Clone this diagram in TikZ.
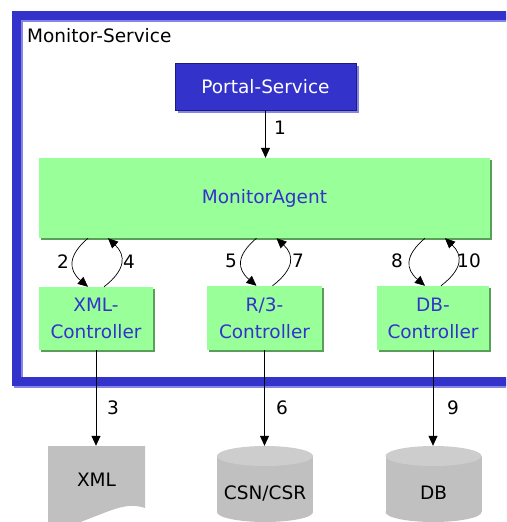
\documentclass[tikz,border=0pt]{standalone}
\usepackage{fontspec}
\setmainfont{DejaVu Sans}
\usetikzlibrary{calc,arrows.meta,shadows}
\definecolor{svcblue}{HTML}{3333CC}
\definecolor{svcshade}{HTML}{8585E6}
\definecolor{svcedge}{HTML}{1C1C7A}
\definecolor{agentgreen}{HTML}{99FF99}
\definecolor{agentshade}{HTML}{5A9E5A}
\definecolor{storegray}{HTML}{C0C0C0}
\definecolor{storetop}{HTML}{CDCDCD}

\begin{document}
\begin{tikzpicture}[x=1pt,y=-1pt,
  font=\fontsize{18.5}{27}\selectfont,
  flow/.style={-{Triangle[length=10pt,width=9pt]}, line width=0.7pt},
  portalbox/.style={fill=svcblue, draw=svcedge, line width=0.6pt, text=white,
    inner sep=0pt, general shadow={fill=svcshade, shadow xshift=3pt, shadow yshift=-3pt}},
  greenbox/.style={fill=agentgreen, text=svcblue, align=center, inner sep=0pt,
    general shadow={fill=agentshade, shadow xshift=2pt, shadow yshift=-2pt}},
  store/.style={inner sep=0pt, text=black},
  numlabel/.style={inner sep=0pt}]

\useasboundingbox (0,0) rectangle (506,522);
\clip (0,0) rectangle (506,522);

% service frame, open past the right edge
\draw[svcshade, line width=9pt] (18.5,17) rectangle (600,383.5);
\draw[svcblue, line width=9pt] (16.5,15) rectangle (600,381.5);
\node[anchor=base west, inner sep=0pt] (title) at (27,42) {Monitor-Service};

% portal and agent
\node[portalbox, minimum width=181, minimum height=47] (portal) at (265.5,86.5) {Portal-Service};
\node[greenbox, minimum width=451, minimum height=80] (agent) at (264.5,198) {MonitorAgent};

% controllers
\node[greenbox, minimum width=114, minimum height=63] (xmlc) at (96,318.5) {XML-\\Controller};
\node[greenbox, minimum width=115, minimum height=64] (r3c) at (264.5,318) {R/3-\\Controller};
\node[greenbox, minimum width=112, minimum height=64] (dbc) at (433,318) {DB-\\Controller};

% stores
\fill[storegray] (48,446) -- (145,446) -- (145,508)
  .. controls (128,502) and (112,510) .. (96,516)
  .. controls (80,522) and (64,530) .. (48,528) -- cycle;
\foreach \cx in {265,433.5}{
  \fill[storegray] (\cx-48,456) rectangle (\cx+48,512);
  \fill[storegray] (\cx,512) ellipse [x radius=48, y radius=10];
  \fill[storetop] (\cx,456) ellipse [x radius=48, y radius=10];
}
\node[store, minimum width=97, minimum height=68] (xmlfile) at (96.5,480) {XML};
\node[store, minimum width=96, minimum height=94] (csn) at (265,493) {CSN/CSR};
\node[store, minimum width=96, minimum height=94] (dbst) at (433.5,493) {DB};

% request from the portal
\draw[flow] (portal.south) -- (portal.south |- agent.north);
\node[numlabel] (n1) at (280,128) {1};

% agent <-> controller round trips
\foreach \c/\a/\b/\d in {xmlc/2/4/33, r3c/5/7/33.5, dbc/8/10/36}{
  \draw[flow] ($(agent.south -| \c.north)+(-8,0)$)
    .. controls +(-20,17) and +(-20,-17) .. ($(\c.north)+(-8,0)$);
  \draw[flow] ($(\c.north)+(8,0)$)
    .. controls +(22,-17) and +(18,17) .. ($(agent.south -| \c.north)+(12,0)$);
  \node[numlabel] at ($(\c.north)+(-\d,-25)$) {\a};
  \node[numlabel] at ($(\c.north)+(\d,-25)$) {\b};
}

% controllers to their stores
\draw[flow] (xmlc.south) -- (xmlc.south |- xmlfile.north);
\draw[flow] (r3c.south) -- (r3c.south |- csn.north);
\draw[flow] (dbc.south) -- (dbc.south |- dbst.north);
\node[numlabel] (n3) at (113,408) {3};
\node[numlabel] (n6) at (282,408) {6};
\node[numlabel] (n9) at (453,408) {9};
\end{tikzpicture}
\end{document}
